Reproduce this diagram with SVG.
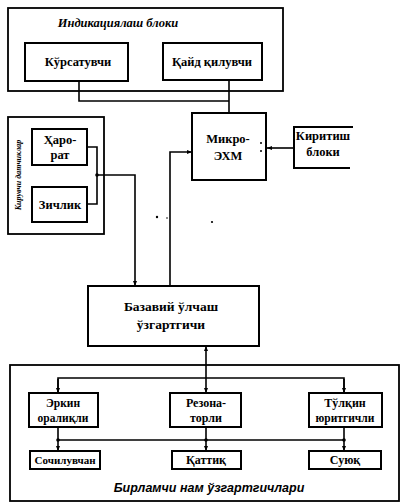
<svg xmlns="http://www.w3.org/2000/svg" width="404" height="504" viewBox="0 0 404 504">
<style>
.box{fill:#fff;stroke:#000;stroke-width:2}
.frame{fill:none;stroke:#000;stroke-width:1.8}
.ln{fill:none;stroke:#000;stroke-width:1.6}
.t{font-family:"Liberation Serif","DejaVu Serif",serif;font-weight:bold;font-size:12.5px;text-anchor:middle;fill:#000}
.ti{font-family:"Liberation Serif","DejaVu Serif",serif;font-weight:bold;font-style:italic;font-size:12.5px;text-anchor:middle;fill:#000}
.ts{font-family:"Liberation Sans",Arial,sans-serif;font-weight:bold;font-style:italic;font-size:12.5px;text-anchor:middle;fill:#000}
</style>
<defs>
<marker id="ar" viewBox="0 0 10 10" refX="10" refY="5" markerWidth="5" markerHeight="5" orient="auto" markerUnits="userSpaceOnUse">
<path d="M0,1 L10,5 L0,9 Z" fill="#000"/>
</marker>
</defs>
<rect width="404" height="504" fill="#fff"/>

<g id="indication-block">
<rect class="frame" x="8" y="8" width="275" height="83"/>
<text class="ti" x="118" y="27">Индикациялаш блоки</text>
</g>
<g id="indicator">
<rect class="box" x="25" y="43" width="103" height="38"/>
<text class="t" x="78" y="66">Кўрсатувчи</text>
</g>
<g id="recorder">
<rect class="box" x="163" y="43" width="99" height="37"/>
<text class="t" x="212" y="66">Қайд қилувчи</text>
</g>
<g id="micro-computer">
<rect class="box" x="192" y="113" width="74" height="67"/>
<text class="t" x="228" y="143">Микро-</text>
<text class="t" x="228" y="160">ЭХМ</text>
<circle cx="261" cy="143" r="1"/>
<circle cx="261" cy="151" r="1"/>
</g>
<g id="input-block">
<path class="box" style="fill:none" d="M353,127 H294 V168 H350"/>
<text class="t" x="323" y="140">Киритиш</text>
<text class="t" x="323" y="156">блоки</text>
</g>
<g id="input-sensors">
<rect class="frame" x="8" y="117" width="96" height="117"/>
<text class="ti" style="font-size:8px" transform="translate(21,175) rotate(-90)">Кирувчи датчиклар</text>
</g>
<g id="temperature">
<rect class="box" x="32" y="129" width="55" height="36"/>
<text class="t" x="60" y="144">Ҳаро-</text>
<text class="t" x="60" y="159">рат</text>
</g>
<g id="density">
<rect class="box" x="32" y="187" width="55" height="35"/>
<text class="t" x="60" y="209">Зичлик</text>
</g>
<g id="base-converter">
<rect class="box" x="88" y="286" width="171" height="60"/>
<text class="t" style="font-size:13.5px" x="171" y="311">Базавий ўлчаш</text>
<text class="t" style="font-size:13.5px" x="171" y="329">ўзгартгичи</text>
</g>
<g id="primary-converters">
<rect class="frame" x="10" y="365" width="389" height="136"/>
<text class="ts" x="209" y="492">Бирламчи нам ўзгартгичлари</text>
</g>
<g id="free-space">
<rect class="box" x="29" y="393" width="69" height="34"/>
<text class="t" style="font-size:11.5px" x="63" y="407">Эркин</text>
<text class="t" style="font-size:11.5px" x="63" y="422">оралиқли</text>
</g>
<g id="resonator">
<rect class="box" x="170" y="393" width="71" height="34"/>
<text class="t" style="font-size:12px" x="206" y="407">Резона-</text>
<text class="t" style="font-size:12px" x="206" y="422">торли</text>
</g>
<g id="waveguide">
<rect class="box" x="309" y="393" width="73" height="34"/>
<text class="t" style="font-size:12px" x="345" y="407">Тўлқин</text>
<text class="t" style="font-size:11.5px" x="345" y="422">юритгичли</text>
</g>
<g id="bulk">
<rect class="box" x="30" y="451" width="70" height="18"/>
<text class="t" style="font-size:11px" x="65" y="464">Сочилувчан</text>
</g>
<g id="solid">
<rect class="box" x="172" y="451" width="69" height="18"/>
<text class="t" style="font-size:12px" x="206" y="464">Қаттиқ</text>
</g>
<g id="liquid">
<rect class="box" x="309" y="451" width="72" height="18"/>
<text class="t" style="font-size:12px" x="345" y="464">Суюқ</text>
</g>

<g id="connectors">
<path class="ln" d="M79,81 V101 H229"/>
<path class="ln" d="M229,80 V113"/>
<path class="ln" d="M294,148 H267" marker-end="url(#ar)"/>
<path class="ln" d="M87,147 H97 V204 H87"/>
<circle cx="97" cy="175" r="1.8"/>
<path class="ln" d="M97,175 H135 V286" marker-end="url(#ar)"/>
<path class="ln" d="M170,286 V152 H192" marker-end="url(#ar)"/>
<path class="ln" d="M206,378 V346" marker-end="url(#ar)"/>
<path class="ln" d="M58,393 V378 H344 V393"/>
<path class="ln" d="M58,379 V393" marker-end="url(#ar)"/>
<path class="ln" d="M206,378 V393" marker-end="url(#ar)"/>
<path class="ln" d="M344,379 V393" marker-end="url(#ar)"/>
<path class="ln" d="M58,427 V440 H344"/>
<path class="ln" d="M206,427 V440"/>
<path class="ln" d="M344,427 V440"/>
<circle cx="58" cy="440" r="1.8"/>
<circle cx="206" cy="440" r="1.8"/>
<circle cx="344" cy="440" r="1.8"/>
<path class="ln" d="M58,440 V451" marker-end="url(#ar)"/>
<path class="ln" d="M206,440 V451" marker-end="url(#ar)"/>
<path class="ln" d="M344,440 V451" marker-end="url(#ar)"/>
<circle cx="157" cy="217" r="1.2"/>
<circle cx="167" cy="218" r="0.8"/>
<circle cx="212" cy="222" r="1.1"/>
</g>
</svg>
